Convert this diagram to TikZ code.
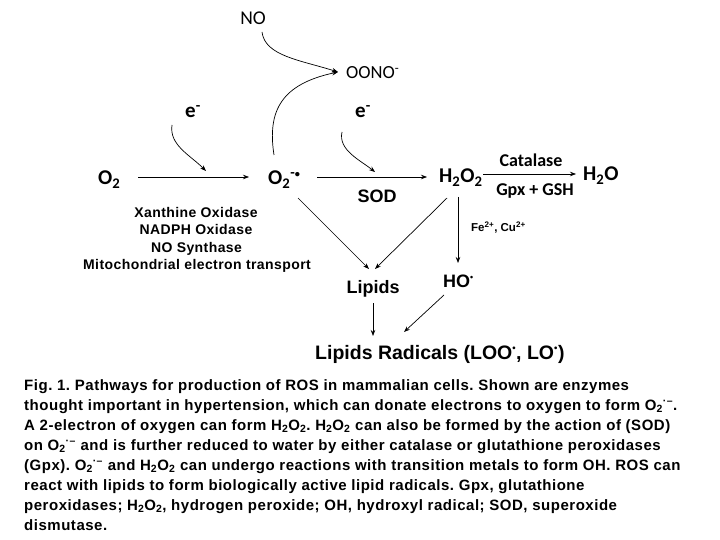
\documentclass[tikz,border=0pt]{standalone}
\usepackage{graphicx}
\usepackage{fontspec}
\setmainfont{Liberation Sans}
\newfontfamily\calfont{Carlito}
\newfontfamily\capfont[LetterSpace=3.5]{Liberation Sans}
\newfontfamily\enzfont[LetterSpace=3]{Liberation Sans}
\usetikzlibrary{arrows.meta}
\newcommand{\sbul}{\textsuperscript{\scalebox{0.7}{\textbullet}}}
\frenchspacing
\begin{document}
\begin{tikzpicture}[x=1pt,y=-1pt,
  arr/.style={-{Stealth[length=6pt,width=4.5pt]}, line width=0.7pt},
  cal/.style={font=\calfont\fontsize{19.5}{19.5}\selectfont, inner sep=0pt},
  calb/.style={font=\calfont\bfseries\fontsize{21}{21}\selectfont, inner sep=0pt},
  calm/.style={font=\calfont\bfseries\fontsize{18}{18}\selectfont, inner sep=0pt},
  arb/.style={font=\bfseries\fontsize{18}{18}\selectfont, inner sep=0pt},
  enz/.style={font=\enzfont\bfseries\fontsize{14}{14}\selectfont, inner sep=0pt, anchor=base},
  capt/.style={font=\capfont\bfseries\fontsize{15}{15}\selectfont, inner sep=0pt, anchor=base west}]
\useasboundingbox (0,0) rectangle (720,540);
\fill[white] (0,0) rectangle (720,540);

% labels
\node[cal, anchor=base] (no) at (253,25) {NO};
\node[cal, font=\calfont\fontsize{18.5}{18.5}\selectfont, anchor=base west] (oono) at (346,79) {OONO\textsuperscript{-}};
\node[calb, anchor=base west] (e1) at (185,118) {e\textsuperscript{-}};
\node[calb, anchor=base west] (e2) at (355,118) {e\textsuperscript{-}};
\node[calb, anchor=base west] (o2) at (98,185) {O\textsubscript{2}};
\node[calb, anchor=base west] (sup) at (268,185) {O\textsubscript{2}\textsuperscript{-\scalebox{0.7}{\textbullet}}};
\node[calb, anchor=base west] (h2o2) at (439,183) {H\textsubscript{2}O\textsubscript{2}};
\node[calb, anchor=base west] (h2o) at (583,181) {H\textsubscript{2}O};
\node[calm, anchor=base] (cat) at (531,167) {Catalase};
\node[calm, anchor=base] (gpx) at (535,196) {Gpx + GSH};
\node[arb, anchor=base] (sod) at (377,203) {SOD};
\node[arb, anchor=base] (lip) at (373,293) {Lipids};
\node[arb, anchor=base west] (ho) at (443,287) {HO\sbul};
\node[arb, font=\bfseries\fontsize{19.5}{19.5}\selectfont, anchor=base west] (lr) at (315,359) {Lipids Radicals (LOO\sbul, LO\sbul)};
\node[font=\bfseries\fontsize{11.5}{11.5}\selectfont, inner sep=0pt, anchor=base west] (fe) at (471,232) {Fe\textsuperscript{2+}, Cu\textsuperscript{2+}};

\node[enz] (xo) at (196,218) {Xanthine Oxidase};
\node[enz] (nad) at (196,235) {NADPH Oxidase};
\node[enz] (nos) at (196.5,252) {NO Synthase};
\node[enz] (mit) at (197,269) {Mitochondrial electron transport};

% connector end points
\coordinate (a1) at (138,177); \coordinate (a2) at (249,177);
\coordinate (b1) at (317,177); \coordinate (b2) at (427,177);
\coordinate (c1) at (483,174); \coordinate (c2) at (576,174);
\coordinate (d1) at (458,197); \coordinate (d2) at (458,263);
\coordinate (f1) at (298,198); \coordinate (f2) at (369,269);
\coordinate (g1) at (447,198); \coordinate (g2) at (375,269);
\coordinate (h1) at (373,303); \coordinate (h2) at (373,336);
\coordinate (i1) at (444,295); \coordinate (i2) at (404,332);
\coordinate (tip) at (338,72);
\coordinate (n1) at (262,32);
\coordinate (s1) at (274,155);
\coordinate (ea) at (172,125); \coordinate (eA) at (206,171);
\coordinate (eb) at (342,132); \coordinate (eB) at (375,172);

\draw[arr] (a1) -- (a2);
\draw[arr] (b1) -- (b2);
\draw[arr] (c1) -- (c2);
\draw[arr] (d1) -- (d2);
\draw[arr] (f1) -- (f2);
\draw[arr] (g1) -- (g2);
\draw[arr] (h1) -- (h2);
\draw[arr] (i1) -- (i2);
\draw[arr] (n1) .. controls (265,56) and (300,60) .. (tip);
\draw[arr] (s1) .. controls (267,110) and (282,84) .. (tip);
\draw[arr] (ea) .. controls (169,145) and (190,155) .. (eA);
\draw[arr] (eb) .. controls (338,150) and (360,160) .. (eB);

% caption
\node[capt] (l1) at (24,390) {Fig. 1. Pathways for production of ROS in mammalian cells. Shown are enzymes};
\node[capt] (l2) at (24,410) {thought important in hypertension, which can donate electrons to oxygen to form O\textsubscript{2}\textsuperscript{·–}.};
\node[capt] (l3) at (24,430) {A 2-electron of oxygen can form H\textsubscript{2}O\textsubscript{2}. H\textsubscript{2}O\textsubscript{2} can also be formed by the action of (SOD)};
\node[capt] (l4) at (24,450) {on O\textsubscript{2}\textsuperscript{·–} and is further reduced to water by either catalase or glutathione peroxidases};
\node[capt] (l5) at (24,470) {(Gpx). O\textsubscript{2}\textsuperscript{·–} and H\textsubscript{2}O\textsubscript{2} can undergo reactions with transition metals to form OH. ROS can};
\node[capt] (l6) at (24,490) {react with lipids to form biologically active lipid radicals. Gpx, glutathione};
\node[capt] (l7) at (24,510) {peroxidases; H\textsubscript{2}O\textsubscript{2}, hydrogen peroxide; OH, hydroxyl radical; SOD, superoxide};
\node[capt] (l8) at (24,530) {dismutase.};
\end{tikzpicture}
\end{document}
